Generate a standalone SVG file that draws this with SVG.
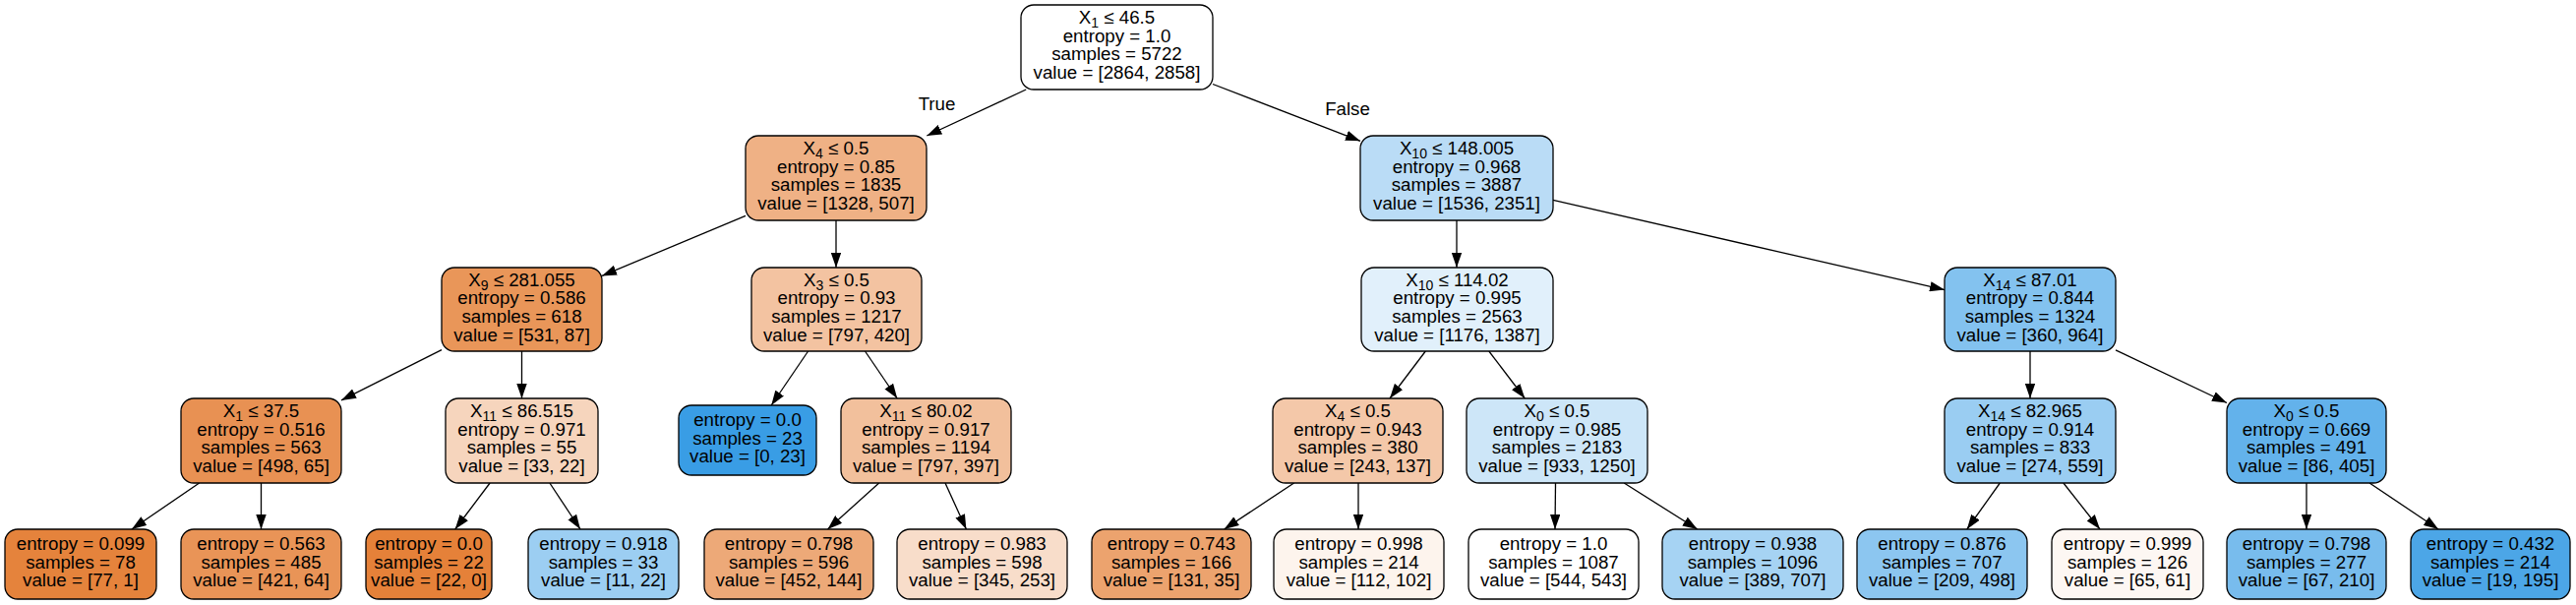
<svg xmlns="http://www.w3.org/2000/svg" width="2619" height="615" viewBox="0 0 2619 615">
<style>
  .bg { fill: #ffffff; }
  .box { stroke: #000000; stroke-width: 1.3; }
  .t { font-family: "Liberation Sans", Arial, Helvetica, sans-serif; font-size: 18.7px; fill: #000000; text-anchor: middle; }
  .sub { font-size: 14px; }
  .edge { stroke: #000000; stroke-width: 1.3; fill: none; marker-end: url(#arrow); }
  .lbl { font-family: "Liberation Sans", Arial, Helvetica, sans-serif; font-size: 18.7px; fill: #000000; text-anchor: middle; }
</style>
<defs>
  <marker id="arrow" viewBox="0 0 15 10.4" refX="15" refY="5.2" markerWidth="15" markerHeight="10.4" markerUnits="userSpaceOnUse" orient="auto">
    <path d="M0,0 L15,5.2 L0,10.4 z" fill="#000000"/>
  </marker>
</defs>
<rect class="bg" x="0" y="0" width="2619" height="615"/>

<g id="connectors">
  <line class="edge" x1="1043.2" y1="91" x2="942.3" y2="138"/>
  <line class="edge" x1="1233" y1="85.5" x2="1383" y2="143.3"/>
  <line class="edge" x1="758" y1="219.4" x2="612" y2="280.4"/>
  <line class="edge" x1="850" y1="224" x2="850" y2="272"/>
  <line class="edge" x1="449" y1="355.6" x2="347" y2="406.9"/>
  <line class="edge" x1="530.5" y1="357" x2="530.5" y2="405"/>
  <line class="edge" x1="202.6" y1="491" x2="133.9" y2="538"/>
  <line class="edge" x1="265.5" y1="491" x2="265.5" y2="538"/>
  <line class="edge" x1="498.1" y1="491" x2="462.7" y2="538"/>
  <line class="edge" x1="558.9" y1="491" x2="590" y2="538"/>
  <line class="edge" x1="821.6" y1="357" x2="784.2" y2="412"/>
  <line class="edge" x1="879.5" y1="357" x2="912.2" y2="405"/>
  <line class="edge" x1="893.7" y1="491" x2="841.5" y2="538"/>
  <line class="edge" x1="961" y1="491" x2="982.4" y2="538"/>
  <line class="edge" x1="1481" y1="224" x2="1481" y2="272"/>
  <line class="edge" x1="1579" y1="203.4" x2="1977" y2="294.6"/>
  <line class="edge" x1="1449.3" y1="357" x2="1413" y2="405"/>
  <line class="edge" x1="1513.8" y1="357" x2="1550.3" y2="405"/>
  <line class="edge" x1="1315.6" y1="491" x2="1244.6" y2="538"/>
  <line class="edge" x1="1381" y1="491" x2="1381" y2="538"/>
  <line class="edge" x1="1581.5" y1="491" x2="1581" y2="538"/>
  <line class="edge" x1="1651.2" y1="491" x2="1725.7" y2="538"/>
  <line class="edge" x1="2064" y1="357" x2="2064" y2="405"/>
  <line class="edge" x1="2151" y1="355.8" x2="2264" y2="409.5"/>
  <line class="edge" x1="2033.3" y1="491" x2="1999.8" y2="538"/>
  <line class="edge" x1="2097.9" y1="491" x2="2135" y2="538"/>
  <line class="edge" x1="2345" y1="491" x2="2345" y2="538"/>
  <line class="edge" x1="2409.1" y1="491" x2="2479.1" y2="538"/>
  <text class="lbl" x="952.5" y="112">True</text>
  <text class="lbl" x="1370" y="117">False</text>
</g>

<g id="node0">
  <rect class="box" x="1038" y="5" width="195" height="86" rx="13" fill="#ffffff"/>
  <text class="t" x="1135.5" y="24">X<tspan class="sub" dy="4">1</tspan><tspan dy="-4"> ≤ 46.5</tspan></text>
  <text class="t" x="1135.5" y="42.7">entropy = 1.0</text>
  <text class="t" x="1135.5" y="61.4">samples = 5722</text>
  <text class="t" x="1135.5" y="80">value = [2864, 2858]</text>
</g>
<g id="node1">
  <rect class="box" x="758" y="138" width="184" height="86" rx="13" fill="#efb185"/>
  <text class="t" x="850" y="157">X<tspan class="sub" dy="4">4</tspan><tspan dy="-4"> ≤ 0.5</tspan></text>
  <text class="t" x="850" y="175.7">entropy = 0.85</text>
  <text class="t" x="850" y="194.4">samples = 1835</text>
  <text class="t" x="850" y="213">value = [1328, 507]</text>
</g>
<g id="node2">
  <rect class="box" x="449" y="272" width="163" height="85" rx="13" fill="#e99659"/>
  <text class="t" x="530.5" y="290.5">X<tspan class="sub" dy="4">9</tspan><tspan dy="-4"> ≤ 281.055</tspan></text>
  <text class="t" x="530.5" y="309.2">entropy = 0.586</text>
  <text class="t" x="530.5" y="327.9">samples = 618</text>
  <text class="t" x="530.5" y="346.5">value = [531, 87]</text>
</g>
<g id="node3">
  <rect class="box" x="184" y="405" width="163" height="86" rx="13" fill="#e89153"/>
  <text class="t" x="265.5" y="424">X<tspan class="sub" dy="4">1</tspan><tspan dy="-4"> ≤ 37.5</tspan></text>
  <text class="t" x="265.5" y="442.7">entropy = 0.516</text>
  <text class="t" x="265.5" y="461.4">samples = 563</text>
  <text class="t" x="265.5" y="480">value = [498, 65]</text>
</g>
<g id="node4">
  <rect class="box" x="5" y="538" width="154" height="71" rx="13" fill="#e5833c"/>
  <text class="t" x="82" y="558.8">entropy = 0.099</text>
  <text class="t" x="82" y="577.5">samples = 78</text>
  <text class="t" x="82" y="596.2">value = [77, 1]</text>
</g>
<g id="node5">
  <rect class="box" x="184" y="538" width="163" height="71" rx="13" fill="#e99457"/>
  <text class="t" x="265.5" y="558.8">entropy = 0.563</text>
  <text class="t" x="265.5" y="577.5">samples = 485</text>
  <text class="t" x="265.5" y="596.2">value = [421, 64]</text>
</g>
<g id="node6">
  <rect class="box" x="453" y="405" width="155" height="86" rx="13" fill="#f6d5bd"/>
  <text class="t" x="530.5" y="424">X<tspan class="sub" dy="4">11</tspan><tspan dy="-4"> ≤ 86.515</tspan></text>
  <text class="t" x="530.5" y="442.7">entropy = 0.971</text>
  <text class="t" x="530.5" y="461.4">samples = 55</text>
  <text class="t" x="530.5" y="480">value = [33, 22]</text>
</g>
<g id="node7">
  <rect class="box" x="372" y="538" width="128" height="71" rx="13" fill="#e58139"/>
  <text class="t" x="436" y="558.8">entropy = 0.0</text>
  <text class="t" x="436" y="577.5">samples = 22</text>
  <text class="t" x="436" y="596.2">value = [22, 0]</text>
</g>
<g id="node8">
  <rect class="box" x="537" y="538" width="153" height="71" rx="13" fill="#9ccef2"/>
  <text class="t" x="613.5" y="558.8">entropy = 0.918</text>
  <text class="t" x="613.5" y="577.5">samples = 33</text>
  <text class="t" x="613.5" y="596.2">value = [11, 22]</text>
</g>
<g id="node9">
  <rect class="box" x="764" y="272" width="173" height="85" rx="13" fill="#f3c3a1"/>
  <text class="t" x="850.5" y="290.5">X<tspan class="sub" dy="4">3</tspan><tspan dy="-4"> ≤ 0.5</tspan></text>
  <text class="t" x="850.5" y="309.2">entropy = 0.93</text>
  <text class="t" x="850.5" y="327.9">samples = 1217</text>
  <text class="t" x="850.5" y="346.5">value = [797, 420]</text>
</g>
<g id="node10">
  <rect class="box" x="690" y="412" width="140" height="71" rx="13" fill="#399de5"/>
  <text class="t" x="760" y="432.8">entropy = 0.0</text>
  <text class="t" x="760" y="451.5">samples = 23</text>
  <text class="t" x="760" y="470.2">value = [0, 23]</text>
</g>
<g id="node11">
  <rect class="box" x="855" y="405" width="173" height="86" rx="13" fill="#f2c09c"/>
  <text class="t" x="941.5" y="424">X<tspan class="sub" dy="4">11</tspan><tspan dy="-4"> ≤ 80.02</tspan></text>
  <text class="t" x="941.5" y="442.7">entropy = 0.917</text>
  <text class="t" x="941.5" y="461.4">samples = 1194</text>
  <text class="t" x="941.5" y="480">value = [797, 397]</text>
</g>
<g id="node12">
  <rect class="box" x="716" y="538" width="172" height="71" rx="13" fill="#eda978"/>
  <text class="t" x="802" y="558.8">entropy = 0.798</text>
  <text class="t" x="802" y="577.5">samples = 596</text>
  <text class="t" x="802" y="596.2">value = [452, 144]</text>
</g>
<g id="node13">
  <rect class="box" x="912" y="538" width="173" height="71" rx="13" fill="#f8ddca"/>
  <text class="t" x="998.5" y="558.8">entropy = 0.983</text>
  <text class="t" x="998.5" y="577.5">samples = 598</text>
  <text class="t" x="998.5" y="596.2">value = [345, 253]</text>
</g>
<g id="node14">
  <rect class="box" x="1383" y="138" width="196" height="86" rx="13" fill="#badcf6"/>
  <text class="t" x="1481" y="157">X<tspan class="sub" dy="4">10</tspan><tspan dy="-4"> ≤ 148.005</tspan></text>
  <text class="t" x="1481" y="175.7">entropy = 0.968</text>
  <text class="t" x="1481" y="194.4">samples = 3887</text>
  <text class="t" x="1481" y="213">value = [1536, 2351]</text>
</g>
<g id="node15">
  <rect class="box" x="1384" y="272" width="195" height="85" rx="13" fill="#e1f0fb"/>
  <text class="t" x="1481.5" y="290.5">X<tspan class="sub" dy="4">10</tspan><tspan dy="-4"> ≤ 114.02</tspan></text>
  <text class="t" x="1481.5" y="309.2">entropy = 0.995</text>
  <text class="t" x="1481.5" y="327.9">samples = 2563</text>
  <text class="t" x="1481.5" y="346.5">value = [1176, 1387]</text>
</g>
<g id="node16">
  <rect class="box" x="1294" y="405" width="173" height="86" rx="13" fill="#f4c8a9"/>
  <text class="t" x="1380.5" y="424">X<tspan class="sub" dy="4">4</tspan><tspan dy="-4"> ≤ 0.5</tspan></text>
  <text class="t" x="1380.5" y="442.7">entropy = 0.943</text>
  <text class="t" x="1380.5" y="461.4">samples = 380</text>
  <text class="t" x="1380.5" y="480">value = [243, 137]</text>
</g>
<g id="node17">
  <rect class="box" x="1110" y="538" width="162" height="71" rx="13" fill="#eca36e"/>
  <text class="t" x="1191" y="558.8">entropy = 0.743</text>
  <text class="t" x="1191" y="577.5">samples = 166</text>
  <text class="t" x="1191" y="596.2">value = [131, 35]</text>
</g>
<g id="node18">
  <rect class="box" x="1295" y="538" width="173" height="71" rx="13" fill="#fdf4ed"/>
  <text class="t" x="1381.5" y="558.8">entropy = 0.998</text>
  <text class="t" x="1381.5" y="577.5">samples = 214</text>
  <text class="t" x="1381.5" y="596.2">value = [112, 102]</text>
</g>
<g id="node19">
  <rect class="box" x="1491" y="405" width="184" height="86" rx="13" fill="#cde6f8"/>
  <text class="t" x="1583" y="424">X<tspan class="sub" dy="4">0</tspan><tspan dy="-4"> ≤ 0.5</tspan></text>
  <text class="t" x="1583" y="442.7">entropy = 0.985</text>
  <text class="t" x="1583" y="461.4">samples = 2183</text>
  <text class="t" x="1583" y="480">value = [933, 1250]</text>
</g>
<g id="node20">
  <rect class="box" x="1493" y="538" width="173" height="71" rx="13" fill="#ffffff"/>
  <text class="t" x="1579.5" y="558.8">entropy = 1.0</text>
  <text class="t" x="1579.5" y="577.5">samples = 1087</text>
  <text class="t" x="1579.5" y="596.2">value = [544, 543]</text>
</g>
<g id="node21">
  <rect class="box" x="1690" y="538" width="184" height="71" rx="13" fill="#a6d3f3"/>
  <text class="t" x="1782" y="558.8">entropy = 0.938</text>
  <text class="t" x="1782" y="577.5">samples = 1096</text>
  <text class="t" x="1782" y="596.2">value = [389, 707]</text>
</g>
<g id="node22">
  <rect class="box" x="1977" y="272" width="174" height="85" rx="13" fill="#83c2ef"/>
  <text class="t" x="2064" y="290.5">X<tspan class="sub" dy="4">14</tspan><tspan dy="-4"> ≤ 87.01</tspan></text>
  <text class="t" x="2064" y="309.2">entropy = 0.844</text>
  <text class="t" x="2064" y="327.9">samples = 1324</text>
  <text class="t" x="2064" y="346.5">value = [360, 964]</text>
</g>
<g id="node23">
  <rect class="box" x="1977" y="405" width="174" height="86" rx="13" fill="#9acdf2"/>
  <text class="t" x="2064" y="424">X<tspan class="sub" dy="4">14</tspan><tspan dy="-4"> ≤ 82.965</tspan></text>
  <text class="t" x="2064" y="442.7">entropy = 0.914</text>
  <text class="t" x="2064" y="461.4">samples = 833</text>
  <text class="t" x="2064" y="480">value = [274, 559]</text>
</g>
<g id="node24">
  <rect class="box" x="1888" y="538" width="173" height="71" rx="13" fill="#8cc6f0"/>
  <text class="t" x="1974.5" y="558.8">entropy = 0.876</text>
  <text class="t" x="1974.5" y="577.5">samples = 707</text>
  <text class="t" x="1974.5" y="596.2">value = [209, 498]</text>
</g>
<g id="node25">
  <rect class="box" x="2086" y="538" width="154" height="71" rx="13" fill="#fdf7f3"/>
  <text class="t" x="2163" y="558.8">entropy = 0.999</text>
  <text class="t" x="2163" y="577.5">samples = 126</text>
  <text class="t" x="2163" y="596.2">value = [65, 61]</text>
</g>
<g id="node26">
  <rect class="box" x="2264" y="405" width="162" height="86" rx="13" fill="#63b2eb"/>
  <text class="t" x="2345" y="424">X<tspan class="sub" dy="4">0</tspan><tspan dy="-4"> ≤ 0.5</tspan></text>
  <text class="t" x="2345" y="442.7">entropy = 0.669</text>
  <text class="t" x="2345" y="461.4">samples = 491</text>
  <text class="t" x="2345" y="480">value = [86, 405]</text>
</g>
<g id="node27">
  <rect class="box" x="2264" y="538" width="162" height="71" rx="13" fill="#78bced"/>
  <text class="t" x="2345" y="558.8">entropy = 0.798</text>
  <text class="t" x="2345" y="577.5">samples = 277</text>
  <text class="t" x="2345" y="596.2">value = [67, 210]</text>
</g>
<g id="node28">
  <rect class="box" x="2451" y="538" width="162" height="71" rx="13" fill="#4ca6e7"/>
  <text class="t" x="2532" y="558.8">entropy = 0.432</text>
  <text class="t" x="2532" y="577.5">samples = 214</text>
  <text class="t" x="2532" y="596.2">value = [19, 195]</text>
</g>
</svg>
